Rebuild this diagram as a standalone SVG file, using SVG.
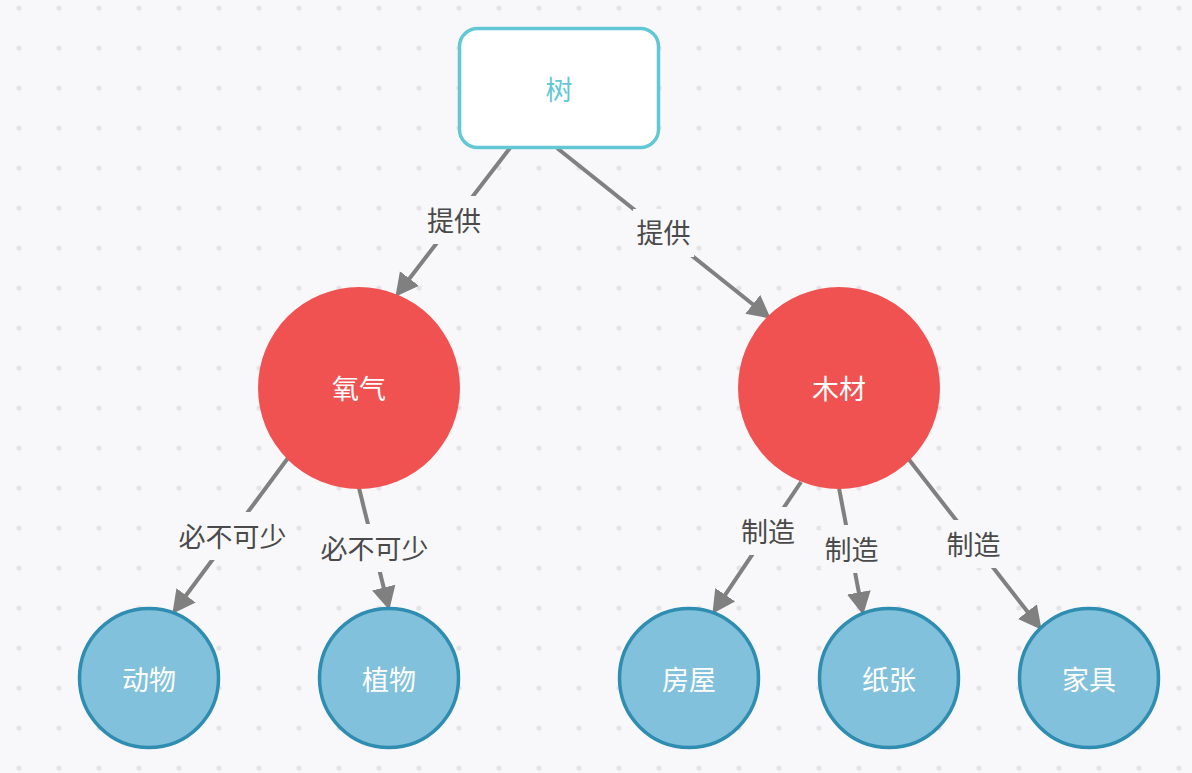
<svg xmlns="http://www.w3.org/2000/svg" width="1192" height="773" viewBox="0 0 1192 773">
  <style>
    .lbl { font-family: "Noto Sans CJK SC", "Liberation Sans", sans-serif; font-size: 27px; fill: #4a4a4a; text-anchor: middle; dominant-baseline: central; }
    .lblbg { fill: #f8f8fb; }
    .edge { stroke: #808080; stroke-width: 4; fill: none; marker-end: url(#arrow); }
    .txt { font-family: "Noto Sans CJK SC", "Liberation Sans", sans-serif; font-size: 27px; text-anchor: middle; dominant-baseline: central; }
    .red { fill: #f05252; }
    .blue { fill: #82c1dc; stroke: #2e8db0; stroke-width: 3.5; }
    .white { fill: #ffffff; }
  </style>
  <defs>
    <pattern id="dots" width="40" height="40" patternUnits="userSpaceOnUse">
      <circle cx="19" cy="8" r="2.6" fill="#e4e4e8"/>
    </pattern>
    <marker id="arrow" markerUnits="userSpaceOnUse" markerWidth="24" markerHeight="26" refX="4" refY="12" orient="auto">
      <path d="M0,0 L23,12 L0,24 z" fill="#808080"/>
    </marker>
  </defs>

  <!-- canvas -->
  <rect width="1192" height="773" fill="#f8f8fb"/>
  <rect width="1192" height="773" fill="url(#dots)"/>

  <!-- connectors -->
  <g id="edges">
    <line class="edge" x1="510" y1="148" x2="407" y2="281.7"/>
    <line class="edge" x1="557" y1="148" x2="755.9" y2="306.8"/>
    <line class="edge" x1="288" y1="458" x2="183.7" y2="598.5"/>
    <line class="edge" x1="359" y1="488" x2="384.7" y2="591.5"/>
    <line class="edge" x1="801" y1="482" x2="723" y2="598.1"/>
    <line class="edge" x1="839" y1="488" x2="859.6" y2="596.3"/>
    <line class="edge" x1="907" y1="457" x2="1029.9" y2="614.8"/>

    <rect class="lblbg" x="423" y="196" width="61" height="48"/>
    <text class="lbl" x="454" y="219">提供</text>
    <rect class="lblbg" x="633" y="209" width="61" height="48"/>
    <text class="lbl" x="663.5" y="231.5">提供</text>
    <rect class="lblbg" x="175" y="512" width="115" height="48"/>
    <text class="lbl" x="232.5" y="535">必不可少</text>
    <rect class="lblbg" x="317" y="524" width="115" height="48"/>
    <text class="lbl" x="374.5" y="547">必不可少</text>
    <rect class="lblbg" x="737" y="507" width="62" height="48"/>
    <text class="lbl" x="768" y="530">制造</text>
    <rect class="lblbg" x="821" y="525" width="62" height="48"/>
    <text class="lbl" x="851.5" y="548">制造</text>
    <rect class="lblbg" x="943" y="520" width="62" height="48"/>
    <text class="lbl" x="973.5" y="543">制造</text>
  </g>

  <!-- nodes -->
  <g id="node-tree">
    <rect x="459.5" y="28.5" width="199" height="119" rx="18" ry="18" fill="#ffffff" stroke="#62c8d6" stroke-width="3.5"/>
    <text class="txt" x="559" y="88" fill="#62c8d6">树</text>
  </g>
  <g id="node-oxygen">
    <circle class="red" cx="359" cy="388" r="101"/>
    <text class="txt white" x="359" y="387">氧气</text>
  </g>
  <g id="node-wood">
    <circle class="red" cx="839" cy="388" r="101"/>
    <text class="txt white" x="839" y="387">木材</text>
  </g>
  <g id="node-animal">
    <circle class="blue" cx="149" cy="678" r="69.5"/>
    <text class="txt white" x="149" y="678">动物</text>
  </g>
  <g id="node-plant">
    <circle class="blue" cx="389" cy="678" r="69.5"/>
    <text class="txt white" x="389" y="678">植物</text>
  </g>
  <g id="node-house">
    <circle class="blue" cx="689" cy="678" r="69.5"/>
    <text class="txt white" x="689" y="678">房屋</text>
  </g>
  <g id="node-paper">
    <circle class="blue" cx="889" cy="678" r="69.5"/>
    <text class="txt white" x="889" y="678">纸张</text>
  </g>
  <g id="node-furniture">
    <circle class="blue" cx="1089" cy="678" r="69.5"/>
    <text class="txt white" x="1089" y="678">家具</text>
  </g>
</svg>
